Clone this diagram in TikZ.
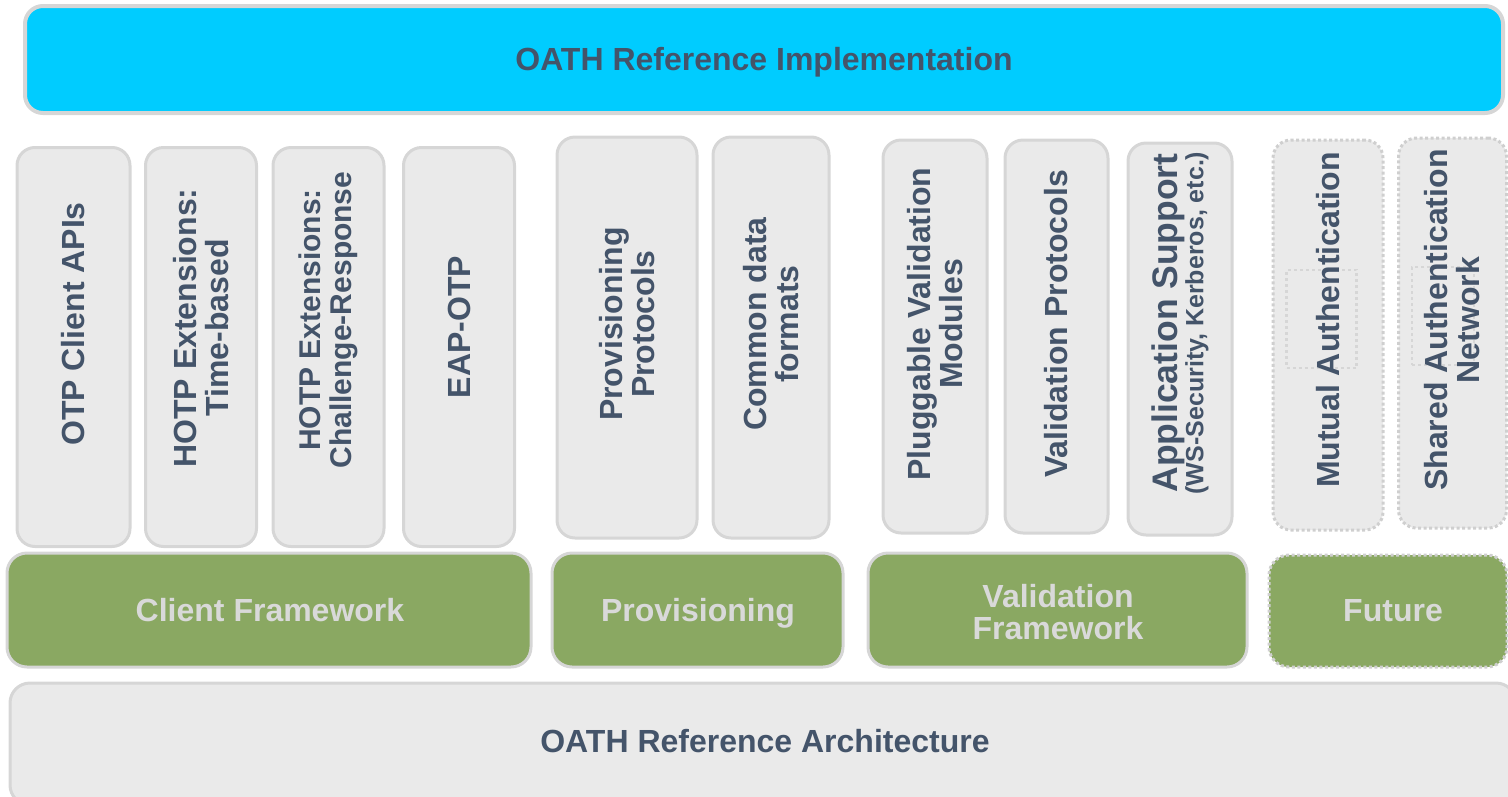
\documentclass[tikz,border=0pt]{standalone}
\usepackage{fontspec}
\setmainfont{Liberation Sans}
\definecolor{bluefill}{HTML}{00CCFF}
\definecolor{greenfill}{HTML}{8AA862}
\definecolor{boxfill}{HTML}{EAEAEA}
\definecolor{boxline}{HTML}{D6D6D6}
\definecolor{dotline}{HTML}{CFCFCF}
\definecolor{darktext}{HTML}{44546A}
\definecolor{lighttext}{HTML}{D9D9D9}
\tikzset{
  base/.style={rectangle, rounded corners=18pt, inner sep=0pt, line width=3pt, draw=boxline},
  bluebar/.style={base, fill=bluefill, line width=4pt},
  graybox/.style={base, fill=boxfill},
  dotbox/.style={base, fill=boxfill, draw=dotline, dash pattern=on 3pt off 2.5pt},
  greenbar/.style={base, fill=greenfill, rounded corners=20pt},
  greendot/.style={greenbar, draw=dotline, dash pattern=on 3pt off 2.5pt},
  innerdot/.style={rectangle, inner sep=0pt, draw=boxline, line width=2.5pt, dash pattern=on 3pt off 3pt},
  darklbl/.style={text=darktext, font=\fontsize{32}{32}\selectfont\bfseries, align=center, inner sep=0pt},
  vlbl/.style={darklbl, rotate=90},
  greenlbl/.style={text=lighttext, font=\fontsize{32}{32}\selectfont\bfseries, align=center, inner sep=0pt},
}
\begin{document}
\begin{tikzpicture}[x=1pt,y=-1pt]
\useasboundingbox (0,0) rectangle (1508,796);
% top bar
\node[bluebar, minimum width=1478pt, minimum height=107pt] (top) at (764,59.5) {};
\node[darklbl] (toplbl) at (764,62) {OATH Reference Implementation};
% vertical boxes
\node[graybox, minimum width=113pt, minimum height=399pt] (b1) at (73.5,347) {};
\node[graybox, minimum width=111pt, minimum height=399pt] (b2) at (201,347) {};
\node[graybox, minimum width=111pt, minimum height=399pt] (b3) at (328.5,347) {};
\node[graybox, minimum width=111pt, minimum height=399pt] (b4) at (459,347) {};
\node[graybox, minimum width=140pt, minimum height=401pt] (b5) at (627,337.5) {};
\node[graybox, minimum width=116pt, minimum height=401pt] (b6) at (771,337.5) {};
\node[graybox, minimum width=104pt, minimum height=393pt] (b7) at (935,336.5) {};
\node[graybox, minimum width=103pt, minimum height=393pt] (b8) at (1056.5,336.5) {};
\node[graybox, minimum width=104pt, minimum height=392pt] (b9) at (1180,339) {};
\node[dotbox, minimum width=110pt, minimum height=390pt] (b10) at (1328,335) {};
\node[dotbox, minimum width=108pt, minimum height=390pt] (b11) at (1452.5,333) {};
\node[innerdot, minimum width=70pt, minimum height=98pt] (i10) at (1321.5,319) {};
\node[innerdot, minimum width=62pt, minimum height=98pt] (i11) at (1443,316) {};
% vertical labels
\node[vlbl] (l1) at (73.5,324) {OTP Client APIs};
\node[vlbl] (l2) at (201,328) {HOTP Extensions:\\Time-based};
\node[vlbl, font=\fontsize{30}{31}\selectfont\bfseries] (l3) at (328.5,320) {HOTP Extensions:\\Challenge-Response};
\node[vlbl] (l4) at (459,327) {EAP-OTP};
\node[vlbl] (l5) at (627,324) {Provisioning\\Protocols};
\node[vlbl] (l6) at (771,324) {Common data\\formats};
\node[vlbl] (l7) at (935,324) {Pluggable Validation\\Modules};
\node[vlbl] (l8) at (1056.5,324) {Validation Protocols};
\node[vlbl, font=\fontsize{35.5}{30}\selectfont\bfseries] (l9) at (1180,323) {Application Support\\[-4pt]{\fontsize{25}{25}\selectfont (WS-Security, Kerberos, etc.)}};
\node[vlbl] (l10) at (1328,320) {Mutual Authentication};
\node[vlbl] (l11) at (1452.5,320) {Shared Authentication\\Network};
% green bars
\node[greenbar, minimum width=524pt, minimum height=114pt] (g1) at (269,610) {};
\node[greenbar, minimum width=291pt, minimum height=114pt] (g2) at (697.5,610) {};
\node[greenbar, minimum width=379pt, minimum height=114pt] (g3) at (1057.5,610) {};
\node[greendot, minimum width=238pt, minimum height=112pt] (g4) at (1388,611) {};
\node[greenlbl] (gl1) at (270,610) {Client Framework};
\node[greenlbl] (gl2) at (698,613) {Provisioning};
\node[greenlbl] (gl3) at (1058,612) {Validation\\Framework};
\node[greenlbl] (gl4) at (1393,611) {Future};
% bottom bar
\node[graybox, minimum width=1506pt, minimum height=122pt, rounded corners=20pt] (bot) at (763,744) {};
\node[darklbl] (botlbl) at (765,741) {OATH Reference Architecture};
\end{tikzpicture}
\end{document}
